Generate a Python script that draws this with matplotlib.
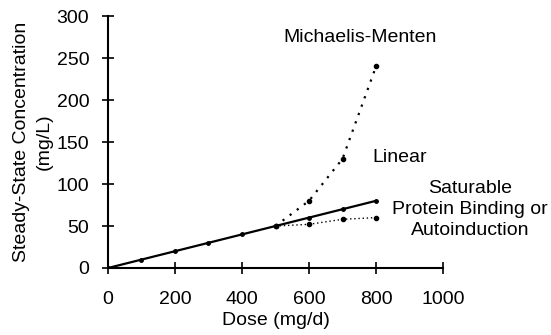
import numpy as np
import matplotlib.pyplot as plt

plt.rcParams['font.family'] = ['Liberation Sans', 'DejaVu Sans']

dose = [0, 100, 200, 300, 400, 500, 600, 700, 800]
linear = [0, 10, 20, 30, 40, 50, 60, 70, 80]

mm_dose = [500, 600, 700, 800]
mm_conc = [50, 80, 130, 240]

sat_dose = [500, 600, 700, 800]
sat_conc = [50, 52, 58, 60]

fig = plt.figure(figsize=(5.51, 3.35), dpi=100)
ax = fig.add_axes([0.196, 0.2, 0.608, 0.752])

ax.plot(dose, linear, color='black', lw=1.6, marker='o', ms=2.5)
ax.plot(mm_dose, mm_conc, color='black', lw=1.6, ls=(0, (1, 3)), marker='o', ms=3)
ax.plot(sat_dose, sat_conc, color='black', lw=1.0, ls=(0, (1, 2)), marker='o', ms=3)

fs = 14
ax.text(752, 274, 'Michaelis-Menten', fontsize=fs, ha='center', va='center')
ax.text(872, 132, 'Linear', fontsize=fs, ha='center', va='center')
ax.text(1080, 70, 'Saturable\nProtein Binding or\nAutoinduction', fontsize=fs,
        ha='center', va='center', linespacing=1.3)

ax.set_xlim(0, 1000)
ax.set_ylim(0, 300)
ax.set_xticks([0, 200, 400, 600, 800, 1000])
ax.set_yticks([0, 50, 100, 150, 200, 250, 300])
ax.spines['top'].set_visible(False)
ax.spines['right'].set_visible(False)
ax.spines['left'].set_linewidth(1.5)
ax.spines['bottom'].set_linewidth(1.5)
ax.tick_params(direction='inout', length=9, width=1.2, labelsize=fs)
ax.tick_params(axis='x', pad=12)
ax.tick_params(axis='y', pad=9)
ax.set_xlabel('Dose (mg/d)', fontsize=fs, labelpad=3)
ax.set_ylabel('Steady-State Concentration\n(mg/L)', fontsize=fs, linespacing=1.4, labelpad=3)

fig.savefig('out.png', dpi=100)
